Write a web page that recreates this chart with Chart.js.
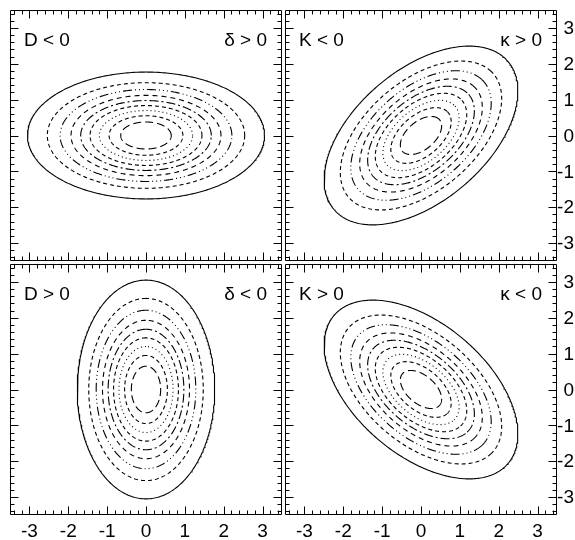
<!DOCTYPE html>
<html>
<head>
<meta charset="utf-8">
<script src="https://cdn.jsdelivr.net/npm/chart.js@4.4.0/dist/chart.umd.min.js"></script>
<style>
  html, body { margin: 0; padding: 0; background: #fff; }
  #wrap { position: relative; width: 575px; height: 540px; }
  #wrap canvas { position: absolute; left: 0; top: 0; }
</style>
</head>
<body>
<div id="wrap">
  <canvas id="p0" width="575" height="540"></canvas>
  <canvas id="p1" width="575" height="540"></canvas>
  <canvas id="p2" width="575" height="540"></canvas>
  <canvas id="p3" width="575" height="540"></canvas>
</div>
<script>
// Semi-major axis of each contour, outermost first (axis units)
const contourMajor = [3.05, 2.54, 2.21, 1.93, 1.68, 1.44, 1.20, 0.95, 0.65];
// Minor / major axis ratio shared by all contours
const axisRatio = [0.58];
// Orientation of the major axis in each panel (degrees): TL, TR, BL, BR
const panelAngles = [0, 45, 90, -45];
// Corner annotations
const leftLabels = ['D < 0', 'K < 0', 'D > 0', 'K > 0'];
const rightLabels = ['\u03B4 > 0', '\u03BA > 0', '\u03B4 < 0', '\u03BA < 0'];
// Axis ticks
const tickValues = [-3, -2, -1, 0, 1, 2, 3];
const tickLabels = ['-3', '-2', '-1', '0', '1', '2', '3'];
const axisMin = -3.5, axisMax = 3.5;

// Line pattern for each contour, outermost first
const dashStyles = [[], [4, 3], [9, 3, 1, 3, 1, 3, 1, 3], [5, 4], [9, 3, 2, 3], [4, 3], [1, 3], [4, 3], [8, 4]];

// Panel rectangles in page pixels
const panels = [
  { l: 10,  r: 282, t: 10,  b: 261, col: 0, row: 0 },
  { l: 285, r: 557, t: 10,  b: 261, col: 1, row: 0 },
  { l: 10,  r: 282, t: 264, b: 515, col: 0, row: 1 },
  { l: 285, r: 557, t: 264, b: 515, col: 1, row: 1 }
];
const W = 575, H = 540;
const FONT = '19px "Liberation Sans", Arial, Helvetica, sans-serif';

function ellipsePoints(a, b, deg) {
  const t = deg * Math.PI / 180, ct = Math.cos(t), st = Math.sin(t);
  const pts = [];
  const n = 360;
  for (let i = 0; i <= n; i++) {
    const p = 2 * Math.PI * i / n;
    const u = a * Math.cos(p), v = b * Math.sin(p);
    pts.push({ x: u * ct - v * st, y: u * st + v * ct });
  }
  return pts;
}

const framePlugin = {
  id: 'frame',
  afterDraw(chart, args, opts) {
    const ctx = chart.ctx;
    const { left, right, top, bottom } = chart.chartArea;
    const xs = chart.scales.x, ys = chart.scales.y;
    const L = Math.round(left) + 0.5, R = Math.round(right) - 0.5;
    const T = Math.round(top) + 0.5, B = Math.round(bottom) - 0.5;
    ctx.save();
    ctx.strokeStyle = '#000';
    ctx.lineWidth = 1;
    ctx.beginPath();
    ctx.rect(L, T, R - L, B - T);
    ctx.stroke();

    // inward ticks on all four sides: majors every 1, minors every 0.2
    ctx.beginPath();
    for (let k = -17; k <= 17; k++) {
      const v = k / 5;
      const len = (k % 5 === 0) ? 8 : 4;
      const px = Math.round(xs.getPixelForValue(v)) + 0.5;
      ctx.moveTo(px, T); ctx.lineTo(px, T + len);
      ctx.moveTo(px, B); ctx.lineTo(px, B - len);
      const py = Math.round(ys.getPixelForValue(v)) + 0.5;
      ctx.moveTo(L, py); ctx.lineTo(L + len, py);
      ctx.moveTo(R, py); ctx.lineTo(R - len, py);
    }
    ctx.stroke();

    ctx.fillStyle = '#000';
    ctx.font = FONT;
    // corner annotations
    ctx.textBaseline = 'alphabetic';
    ctx.textAlign = 'left';
    ctx.fillText(opts.leftText, left + 14, top + 36);
    ctx.textAlign = 'right';
    ctx.fillText(opts.rightText, right - 15, top + 36);

    if (opts.bottomLabels) {
      ctx.textAlign = 'center';
      ctx.textBaseline = 'top';
      tickValues.forEach((v, i) => {
        ctx.fillText(tickLabels[i], xs.getPixelForValue(v), bottom + 7);
      });
    }
    if (opts.rightLabels) {
      ctx.textAlign = 'right';
      ctx.textBaseline = 'middle';
      tickValues.forEach((v, i) => {
        ctx.fillText(tickLabels[i], W - 1, ys.getPixelForValue(v) + 1);
      });
    }
    ctx.restore();
  }
};

panels.forEach((p, idx) => {
  const datasets = contourMajor.map((a, i) => ({
    data: ellipsePoints(a, a * axisRatio[0], panelAngles[idx]),
    showLine: true,
    borderColor: '#000',
    borderWidth: 1.1,
    borderDash: dashStyles[i],
    pointRadius: 0,
    fill: false,
    tension: 0
  }));
  new Chart(document.getElementById('p' + idx), {
    type: 'scatter',
    data: { datasets },
    options: {
      responsive: false,
      animation: false,
      events: [],
      layout: { padding: { left: p.l, right: W - p.r, top: p.t, bottom: H - p.b } },
      scales: {
        x: { type: 'linear', min: axisMin, max: axisMax, display: false },
        y: { type: 'linear', min: axisMin, max: axisMax, display: false }
      },
      plugins: {
        legend: { display: false },
        tooltip: { enabled: false },
        frame: {
          leftText: leftLabels[idx],
          rightText: rightLabels[idx],
          bottomLabels: p.row === 1,
          rightLabels: p.col === 1
        }
      }
    },
    plugins: [framePlugin]
  });
});
</script>
</body>
</html>
